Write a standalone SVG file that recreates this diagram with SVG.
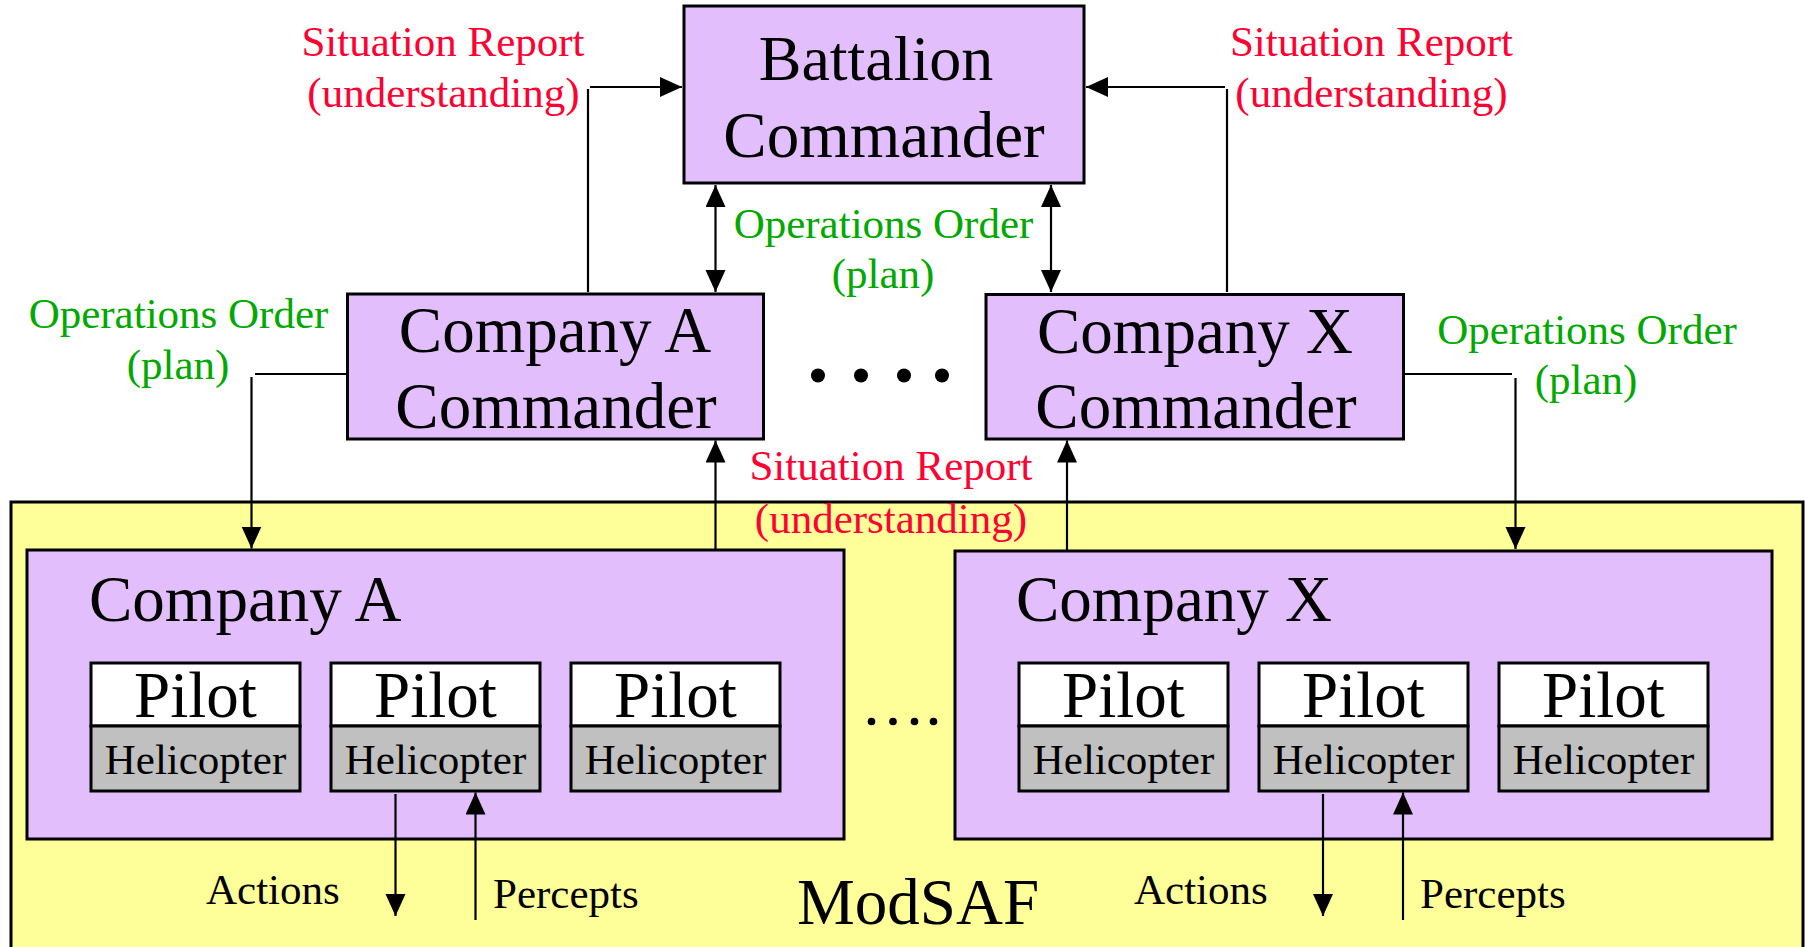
<svg xmlns="http://www.w3.org/2000/svg" width="1805" height="947" viewBox="0 0 1805 947">
  <defs>
    <style>
      text { font-family: "Liberation Serif", "Times New Roman", serif; }
      .box { fill: #E2BEFC; stroke: #000; stroke-width: 3; }
      .modsaf { fill: #FFFF99; stroke: #000; stroke-width: 3; }
      .pilot { fill: #FFFFFF; stroke: #000; stroke-width: 3; }
      .heli { fill: #C0C0C0; stroke: #000; stroke-width: 3; }
      .big { font-size: 65px; fill: #000; }
      .mid { font-size: 43px; fill: #000; }
      .red { font-size: 43px; fill: #FF0033; }
      .green { font-size: 43px; fill: #00A800; }
      .c { text-anchor: middle; }
      .link { fill: none; stroke: #000; stroke-width: 2.2; }
    </style>
    <marker id="arrow" markerUnits="userSpaceOnUse" markerWidth="24" markerHeight="22" refX="22" refY="10" orient="auto-start-reverse">
      <path d="M0,0 L22,10 L0,20 z" fill="#000"/>
    </marker>
  </defs>

  <rect width="1805" height="947" fill="#FFFFFF"/>

  <!-- simulation environment -->
  <g id="modsaf">
    <rect class="modsaf" x="11" y="502" width="1792" height="470"/>
    <text class="big" x="797" y="924">ModSAF</text>
  </g>

  <g id="battalion-commander">
    <rect class="box" x="684" y="6" width="400" height="177"/>
    <text class="big c" x="876" y="80" style="font-size:64px">Battalion</text>
    <text class="big c" x="884" y="157">Commander</text>
  </g>

  <g id="company-a-commander">
    <rect class="box" x="347.5" y="294" width="416" height="145"/>
    <text class="big c" x="555" y="352">Company A</text>
    <text class="big c" x="556" y="428">Commander</text>
  </g>

  <g id="company-x-commander">
    <rect class="box" x="986" y="294.5" width="417.5" height="144.5"/>
    <text class="big c" x="1195" y="353">Company X</text>
    <text class="big c" x="1196" y="428">Commander</text>
  </g>

  <g id="commander-ellipsis">
    <circle cx="818" cy="375.5" r="7"/>
    <circle cx="861" cy="375.5" r="7"/>
    <circle cx="904" cy="375.5" r="7"/>
    <circle cx="942" cy="375.5" r="7"/>
  </g>

  <g id="company-a">
    <rect class="box" x="27" y="550" width="817" height="289"/>
    <text class="big" x="89" y="621">Company A</text>
    <g id="company-a-unit-1">
      <rect class="pilot" x="91" y="663" width="209" height="63"/>
      <rect class="heli" x="91" y="726" width="209" height="65"/>
      <text class="big c" x="195.5" y="717">Pilot</text>
      <text class="mid c" x="195.5" y="774">Helicopter</text>
    </g>
    <g id="company-a-unit-2">
      <rect class="pilot" x="331" y="663" width="209" height="63"/>
      <rect class="heli" x="331" y="726" width="209" height="65"/>
      <text class="big c" x="435.5" y="717">Pilot</text>
      <text class="mid c" x="435.5" y="774">Helicopter</text>
    </g>
    <g id="company-a-unit-3">
      <rect class="pilot" x="571" y="663" width="209" height="63"/>
      <rect class="heli" x="571" y="726" width="209" height="65"/>
      <text class="big c" x="675.5" y="717">Pilot</text>
      <text class="mid c" x="675.5" y="774">Helicopter</text>
    </g>
  </g>

  <g id="company-ellipsis">
    <circle cx="871.5" cy="721.5" r="3.8"/>
    <circle cx="893" cy="721.5" r="3.8"/>
    <circle cx="914.5" cy="721.5" r="3.8"/>
    <circle cx="933.5" cy="721.5" r="3.8"/>
  </g>

  <g id="company-x">
    <rect class="box" x="955" y="551" width="817" height="288"/>
    <text class="big" x="1016" y="621">Company X</text>
    <g id="company-x-unit-1">
      <rect class="pilot" x="1019" y="663" width="209" height="63"/>
      <rect class="heli" x="1019" y="726" width="209" height="65"/>
      <text class="big c" x="1123.5" y="717">Pilot</text>
      <text class="mid c" x="1123.5" y="774">Helicopter</text>
    </g>
    <g id="company-x-unit-2">
      <rect class="pilot" x="1259" y="663" width="209" height="63"/>
      <rect class="heli" x="1259" y="726" width="209" height="65"/>
      <text class="big c" x="1363.5" y="717">Pilot</text>
      <text class="mid c" x="1363.5" y="774">Helicopter</text>
    </g>
    <g id="company-x-unit-3">
      <rect class="pilot" x="1499" y="663" width="209" height="63"/>
      <rect class="heli" x="1499" y="726" width="209" height="65"/>
      <text class="big c" x="1603.5" y="717">Pilot</text>
      <text class="mid c" x="1603.5" y="774">Helicopter</text>
    </g>
  </g>

  <!-- connectors -->
  <g id="connectors">
    <!-- situation reports up to battalion -->
    <path class="link" d="M588,292 V89 M590,87 H682" marker-end="url(#arrow)"/>
    <path class="link" d="M1227,292 V89 M1225,87 H1086" marker-end="url(#arrow)"/>
    <!-- operations orders battalion <-> company commanders -->
    <path class="link" d="M715.5,185 V292" marker-start="url(#arrow)" marker-end="url(#arrow)"/>
    <path class="link" d="M1051,185 V292" marker-start="url(#arrow)" marker-end="url(#arrow)"/>
    <!-- operations orders down to companies -->
    <path class="link" d="M346,374 H255 M251.5,377 V548.5" marker-end="url(#arrow)"/>
    <path class="link" d="M1405,374 H1512 M1515.5,378 V549" marker-end="url(#arrow)"/>
    <!-- situation reports up to company commanders -->
    <path class="link" d="M715.5,550 V440.5" marker-end="url(#arrow)"/>
    <path class="link" d="M1067,551 V440.5" marker-end="url(#arrow)"/>
    <!-- actions and percepts -->
    <path class="link" d="M395.5,794 V916" marker-end="url(#arrow)"/>
    <path class="link" d="M475.5,920 V792.5" marker-end="url(#arrow)"/>
    <path class="link" d="M1323,794 V916" marker-end="url(#arrow)"/>
    <path class="link" d="M1403,920 V792.5" marker-end="url(#arrow)"/>
  </g>

  <g id="labels">
    <text class="red c" x="443" y="56">Situation Report</text>
    <text class="red c" x="443.5" y="107">(understanding)</text>
    <text class="red c" x="1371.5" y="56">Situation Report</text>
    <text class="red c" x="1371.5" y="107">(understanding)</text>
    <text class="green c" x="883.5" y="238">Operations Order</text>
    <text class="green c" x="883" y="288">(plan)</text>
    <text class="green c" x="178.5" y="328">Operations Order</text>
    <text class="green c" x="178" y="379">(plan)</text>
    <text class="green c" x="1587" y="344">Operations Order</text>
    <text class="green c" x="1586" y="394">(plan)</text>
    <text class="red c" x="891" y="480">Situation Report</text>
    <text class="red c" x="891" y="532.5">(understanding)</text>
    <text class="mid" x="206" y="904">Actions</text>
    <text class="mid" x="493" y="908">Percepts</text>
    <text class="mid" x="1134" y="904">Actions</text>
    <text class="mid" x="1420" y="908">Percepts</text>
  </g>
</svg>
